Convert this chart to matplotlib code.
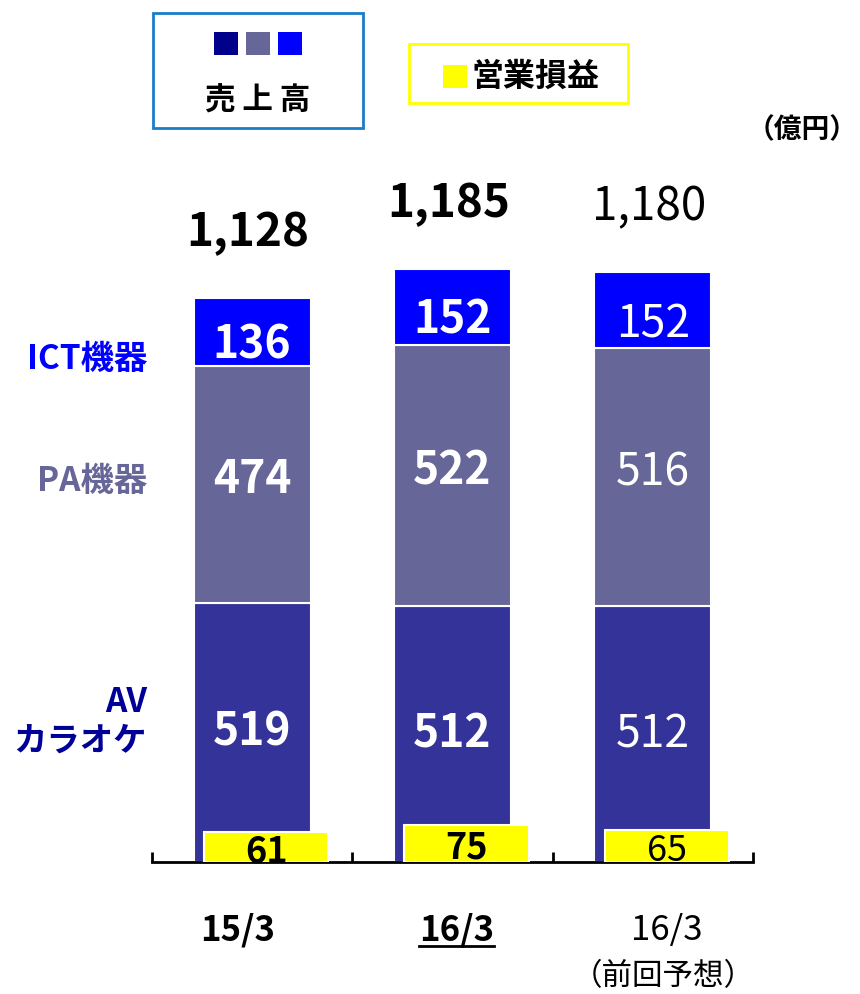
import matplotlib
matplotlib.use("Agg")
import matplotlib.pyplot as plt
from matplotlib.patches import Rectangle
from matplotlib.lines import Line2D
import matplotlib.transforms as mtransforms
import numpy as np

plt.rcParams['font.family'] = ['Noto Sans CJK JP', 'DejaVu Sans']

# ---- data ----
periods = ["15/3", "16/3", "16/3"]
period_notes = ["", "", "（前回予想）"]
av_karaoke = [519, 512, 512]
pa_equipment = [474, 522, 516]
ict_equipment = [136, 152, 152]
totals = [1128, 1185, 1180]
operating_profit = [61, 75, 65]
bold_flags = [True, True, False]
segment_names = ["ICT機器", "PA機器", "AV\nカラオケ"]
unit_label = "（億円）"
legend_sales = "売 上 高"
legend_profit = "営業損益"

# ---- style ----
C_AV = "#333399"
C_PA = "#666699"
C_ICT = "#0000ff"
C_AV_TXT = "#000099"
C_YEL = "#ffff00"
label_dx = [-0.075, 0.02, 0.07]

W, H = 860, 994
fig = plt.figure(figsize=(W / 100, H / 100), dpi=100)

def fx(px):
    return px / W

def fy(py):
    return 1 - py / H

ax_left, ax_right, ax_bottom, ax_top = 152, 753, 862, 150
ax = fig.add_axes([fx(ax_left), fy(ax_bottom), (ax_right - ax_left) / W, (ax_bottom - ax_top) / H])
ax.set_xlim(-0.5, 2.5)
ax.set_ylim(0, (ax_bottom - ax_top) / 0.5)

x = np.arange(len(periods))
bw = 0.585
av = np.array(av_karaoke)
pa = np.array(pa_equipment)
ict = np.array(ict_equipment)

ax.bar(x, av, bw, color=C_AV, edgecolor="white", linewidth=1.5, zorder=2)
ax.bar(x, pa, bw, bottom=av, color=C_PA, edgecolor="white", linewidth=1.5, zorder=2)
ax.bar(x, ict, bw, bottom=av + pa, color=C_ICT, edgecolor="white", linewidth=1.5, zorder=2)
ax.bar(x + 0.07, operating_profit, 0.62, color=C_YEL, edgecolor="white", linewidth=1.5, zorder=3)

for i in range(len(x)):
    fw = "bold" if bold_flags[i] else "normal"
    ax.text(x[i], av[i] / 2, str(av[i]), ha="center", va="center", color="white",
            fontsize=32, fontweight=fw, zorder=4)
    ax.text(x[i], av[i] + pa[i] / 2 + 8, str(pa[i]), ha="center", va="center", color="white",
            fontsize=32, fontweight=fw, zorder=4)
    ax.text(x[i], av[i] + pa[i] + ict[i] / 2 - 28, str(ict[i]), ha="center", va="center",
            color="white", fontsize=32, fontweight=fw, zorder=4)
    ax.text(x[i] - 0.02, totals[i] + 130, f"{totals[i]:,}", ha="center", va="center",
            color="black", fontsize=33, fontweight=fw, zorder=4)
    ax.text(x[i] + 0.07, operating_profit[i] / 2 - 10, str(operating_profit[i]), ha="center",
            va="center", color="black", fontsize=26, fontweight=fw, zorder=5)

for s in ["left", "right", "top"]:
    ax.spines[s].set_visible(False)
ax.spines["bottom"].set_linewidth(2)
ax.set_xticks([-0.5, 0.5, 1.5, 2.5])
ax.set_xticklabels([])
ax.tick_params(axis="x", direction="in", length=7, width=2)
ax.set_yticks([])

trans = mtransforms.blended_transform_factory(ax.transData, fig.transFigure)
period_texts = []
for i in range(len(x)):
    fw = "bold" if bold_flags[i] else "normal"
    t = ax.text(x[i] + label_dx[i], fy(930), periods[i], transform=trans, ha="center",
                va="center", fontsize=25, fontweight=fw, color="black")
    period_texts.append(t)
    if period_notes[i]:
        ax.text(x[i] + 0.05, fy(977), period_notes[i], transform=trans, ha="center",
                va="center", fontsize=22, color="black")

fig.canvas.draw()
renderer = fig.canvas.get_renderer()
bb = period_texts[1].get_window_extent(renderer)
fig.add_artist(Line2D([bb.x0 / W, bb.x1 / W], [fy(946), fy(946)], color="black",
                      linewidth=2, transform=fig.transFigure))

fig.text(fx(147), fy(360), segment_names[0], ha="right", va="center", fontsize=24,
         fontweight="bold", color=C_ICT)
fig.text(fx(147), fy(481), segment_names[1], ha="right", va="center", fontsize=24,
         fontweight="bold", color=C_PA)
fig.text(fx(147), fy(722), segment_names[2], ha="right", va="center", fontsize=24,
         fontweight="bold", color=C_AV_TXT, linespacing=1.2, multialignment="right")

fig.add_artist(Rectangle((fx(153), fy(128)), (363 - 153) / W, (128 - 13) / H,
                         transform=fig.transFigure, fill=False, edgecolor="#1a7dc8", linewidth=2))
for k, c in enumerate(["#00008b", C_PA, C_ICT]):
    fig.add_artist(Rectangle((fx(214 + 32 * k), fy(55)), 24 / W, 23 / H,
                             transform=fig.transFigure, facecolor=c, edgecolor="none"))
fig.text(fx(258), fy(101), legend_sales, ha="center", va="center", fontsize=22,
         fontweight="bold", color="black")

fig.add_artist(Rectangle((fx(409), fy(103)), (628 - 409) / W, (103 - 44) / H,
                         transform=fig.transFigure, fill=False, edgecolor=C_YEL, linewidth=2))
fig.add_artist(Rectangle((fx(443), fy(88)), 24 / W, 23 / H,
                         transform=fig.transFigure, facecolor=C_YEL, edgecolor="none"))
fig.text(fx(472), fy(77), legend_profit, ha="left", va="center", fontsize=23,
         fontweight="bold", color="black")

fig.text(fx(858), fy(130), unit_label, ha="right", va="center", fontsize=20,
         fontweight="bold", color="black")

fig.savefig("out.png", dpi=100)
